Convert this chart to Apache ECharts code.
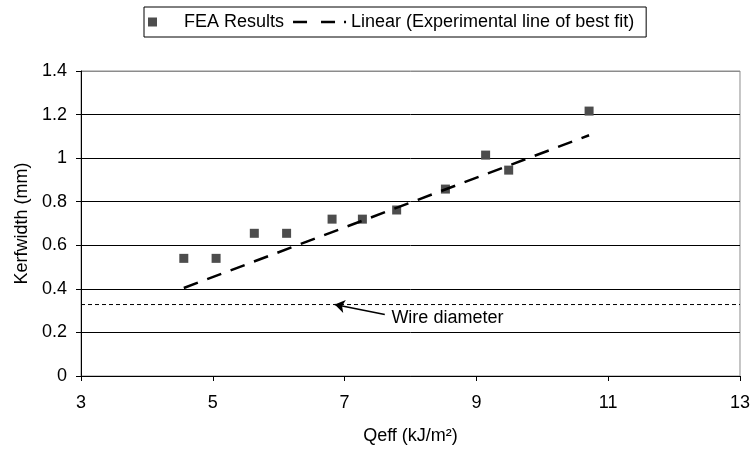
<!DOCTYPE html>
<html>
<head>
<meta charset="utf-8">
<script src="https://cdn.jsdelivr.net/npm/echarts@6/dist/echarts.min.js"></script>
<style>html,body{margin:0;padding:0;background:#fff;}#c{width:753px;height:450px;}</style>
</head>
<body>
<div id="c"></div>
<script>
// ---- data ----
const feaQeff = [4.56, 5.05, 5.63, 6.12, 6.81, 7.27, 7.79, 8.53, 9.14, 9.49, 10.71];
const feaKerf = [0.54, 0.54, 0.655, 0.655, 0.72, 0.72, 0.762, 0.858, 1.014, 0.945, 1.216];
const fitQeff = [4.56, 10.71];
const fitKerf = [0.404, 1.105];
const wireQeff = [3, 13];
const wireKerf = [0.328, 0.328];
const arrowFrom = [7.61, 0.282];
const arrowTo = [6.85, 0.328];
const wireLabelPos = [7.71, 0.267];
const wireLabel = 'Wire diameter';
const seriesNames = ['FEA Results', 'Linear (Experimental line of best fit)'];
const xTitle = 'Qeff (kJ/m²)';
const yTitle = 'Kerfwidth (mm)';

const FONT = "'Liberation Sans', Arial, sans-serif";
const chart = echarts.init(document.getElementById('c'), null, {renderer: 'canvas'});

const zip = (a, b) => a.map((v, i) => [v, b[i]]);

chart.setOption({
  animation: false,
  backgroundColor: '#fff',
  textStyle: {fontFamily: FONT},
  legend: {
    top: 7, left: 144,
    padding: [5, 12, 5, 4],
    borderColor: '#000', borderWidth: 1,
    itemGap: 9, itemWidth: 53, itemHeight: 9,
    textStyle: {fontFamily: FONT, fontSize: 18, color: '#000', lineHeight: 20},
    data: [
      {name: seriesNames[0], icon: 'path://M0,0L10,0L10,10L0,10Z'},
      {name: seriesNames[1], icon: 'path://M0,4L14,4L14,6.5L0,6.5Z M28,4L42,4L42,6.5L28,6.5Z M51,4L53,4L53,6.5L51,6.5Z'}
    ]
  },
  grid: {left: 81, top: 71, width: 660, height: 306, show: true, borderColor: '#8c8c8c', borderWidth: 1},
  xAxis: {
    type: 'value', min: 3, max: 13, interval: 2,
    name: xTitle, nameLocation: 'middle', nameGap: 51,
    nameTextStyle: {fontFamily: FONT, fontSize: 18, color: '#000'},
    axisLine: {onZero: false, lineStyle: {color: '#000', width: 1}},
    axisTick: {show: true, inside: false, length: 5, lineStyle: {color: '#000'}},
    axisLabel: {fontFamily: FONT, fontSize: 18, color: '#000', margin: 18},
    splitLine: {show: false}
  },
  yAxis: {
    type: 'value', min: 0, max: 1.4, interval: 0.2,
    name: yTitle, nameLocation: 'middle', nameGap: 50,
    nameTextStyle: {fontFamily: FONT, fontSize: 18, color: '#000'},
    axisLine: {show: true, lineStyle: {color: '#000', width: 1}},
    axisTick: {show: true, inside: false, length: 5, lineStyle: {color: '#000'}},
    axisLabel: {fontFamily: FONT, fontSize: 18, color: '#000', margin: 14},
    splitLine: {show: true, lineStyle: {color: ['#000','#000','#000','#000','#000','#000','#000','#8c8c8c'], width: 1}}
  },
  series: [
    {
      name: 'Wire diameter line', type: 'line', data: zip(wireQeff, wireKerf),
      symbol: 'none', silent: true,
      lineStyle: {color: '#000', width: 1, type: [4, 3]},
      markLine: {
        silent: true, symbol: ['none', 'arrow'], symbolSize: 10,
        lineStyle: {color: '#000', width: 1.6, type: 'solid'},
        itemStyle: {color: '#000'},
        label: {show: false},
        data: [[{coord: arrowFrom}, {coord: arrowTo}]]
      },
      markPoint: {
        silent: true, symbol: 'circle', symbolSize: 0,
        label: {show: true, position: 'right', distance: 0, formatter: wireLabel,
                fontFamily: FONT, fontSize: 18, color: '#000'},
        data: [{coord: wireLabelPos}]
      }
    },
    {
      name: seriesNames[1], type: 'line', data: zip(fitQeff, fitKerf),
      symbol: 'none', color: '#000',
      lineStyle: {color: '#000', width: 2.5, type: [15, 10]}
    },
    {
      name: seriesNames[0], type: 'scatter', data: zip(feaQeff, feaKerf),
      symbol: 'rect', symbolSize: 9, color: '#4d4d4d',
      itemStyle: {color: '#4d4d4d', opacity: 1}
    }
  ]
});
</script>
</body>
</html>
